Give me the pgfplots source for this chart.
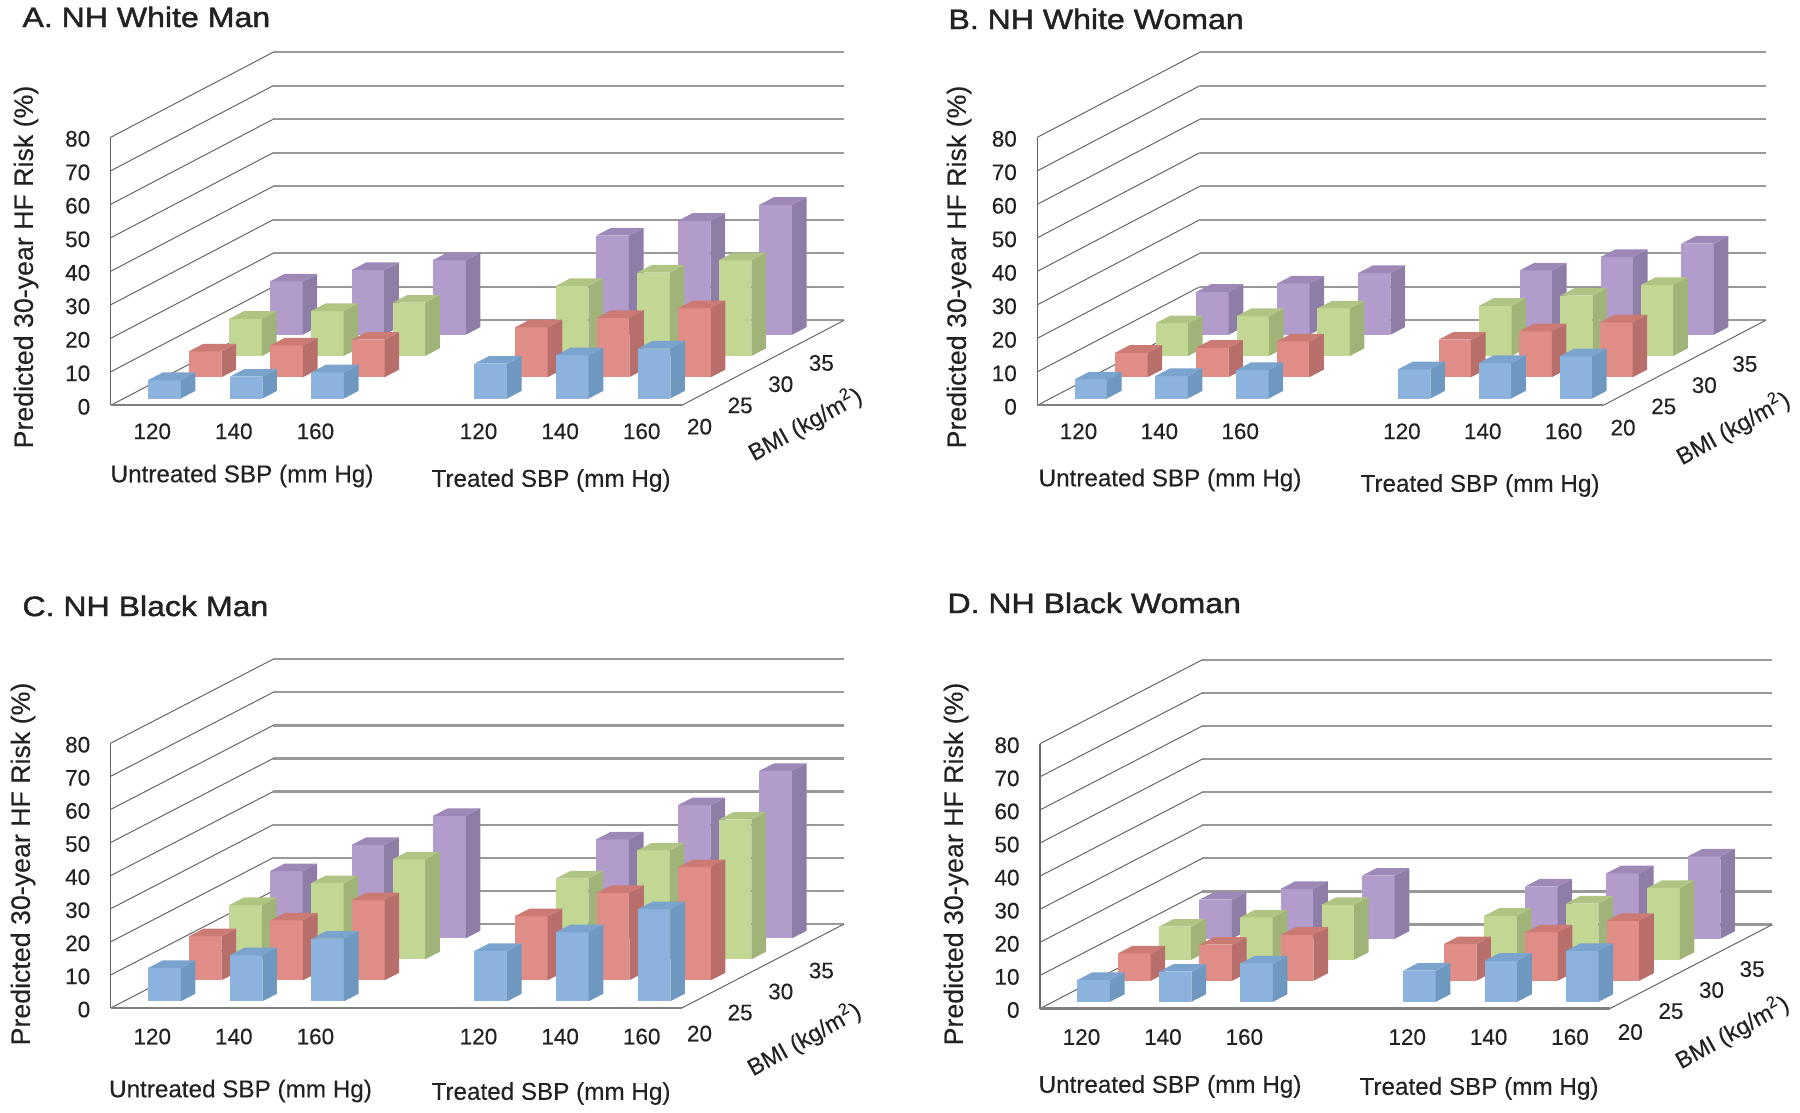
\documentclass[border=0pt]{standalone}
\usepackage{fontspec}
\usepackage{pgfplots}
\pgfplotsset{compat=1.18}
\setmainfont[FakeBold=0.25]{Liberation Sans}
\newfontfamily\titlefont[FakeStretch=1.145,FakeBold=1.6]{Liberation Sans}

\definecolor{blueF}{HTML}{8CB3DE}\definecolor{blueS}{HTML}{6E98C0}\definecolor{blueT}{HTML}{7AA3CE}
\definecolor{redF}{HTML}{E08D87}\definecolor{redS}{HTML}{B86F6C}\definecolor{redT}{HTML}{CC7A74}
\definecolor{greenF}{HTML}{C3D795}\definecolor{greenS}{HTML}{A0B379}\definecolor{greenT}{HTML}{B0C484}
\definecolor{purpleF}{HTML}{B19CCB}\definecolor{purpleS}{HTML}{8E7DA6}\definecolor{purpleT}{HTML}{9D88B8}
\definecolor{txt}{HTML}{222222}

\pgfplotsset{panel/.style={
    hide axis, clip=false, anchor=origin,
    xmin=0, xmax=7, ymin=0, ymax=4, zmin=0, zmax=80,
}}

% one column: category slot, BMI row, height, colour prefix
\newcommand\onebar[4]{%
  \pgfmathsetmacro\xa{#1+0.3}\pgfmathsetmacro\xb{#1+0.7}%
  \pgfmathsetmacro\ya{#2+0.32}\pgfmathsetmacro\yb{#2+0.68}%
  \edef\doit{%
    \noexpand\addplot3[fill=#4F,draw=none] coordinates {(\xa,\ya,0)(\xb,\ya,0)(\xb,\ya,#3)(\xa,\ya,#3)};
    \noexpand\addplot3[fill=#4S,draw=none] coordinates {(\xb,\ya,0)(\xb,\yb,0)(\xb,\yb,#3)(\xb,\ya,#3)};
    \noexpand\addplot3[fill=#4T,draw=none] coordinates {(\xa,\ya,#3)(\xb,\ya,#3)(\xb,\yb,#3)(\xa,\yb,#3)};
  }\doit}
% a BMI row: untreated 120/140/160, gap, treated 120/140/160
\newcommand\series[8]{%
  \onebar{0}{#1}{#3}{#2}\onebar{1}{#1}{#4}{#2}\onebar{2}{#1}{#5}{#2}%
  \onebar{4}{#1}{#6}{#2}\onebar{5}{#1}{#7}{#2}\onebar{6}{#1}{#8}{#2}}

% walls, floor and tick labels; #1 #2 shift of the BMI numbers, #3 shift of the SBP numbers
\newcommand\frameaxis[3]{%
  \pgfplotsinvokeforeach{0,10,...,80}{%
    \addplot3[color=black!40,line width=0.9pt] coordinates {(0,4,##1)(7,4,##1)};
    \addplot3[color=black!60,line width=0.4pt] coordinates {(0,0,##1)(0,4,##1)};
    \node[anchor=east,inner sep=0pt,text=txt,font=\fontsize{9}{10}\selectfont,xshift=-8pt,yshift=-0.6pt] at (axis cs:0,0,##1) {##1};
  }
  \addplot3[color=black!60,line width=0.5pt] coordinates {(0,0,0)(0,0,80)};
  \addplot3[color=black!50,line width=0.9pt] coordinates {(0,0,0)(7,0,0)};
  \addplot3[color=black!60,line width=0.4pt] coordinates {(7,0,0)(7,4,0)};
  \foreach \c/\t in {0.5/120,1.5/140,2.5/160,4.5/120,5.5/140,6.5/160}{%
    \edef\doit{\noexpand\node[inner sep=0pt,text=txt,font=\noexpand\fontsize{9}{10}\noexpand\selectfont,xshift=0.3pt,yshift=-#3pt] at (axis cs:\c,0,0) {\t};}\doit}
  \foreach \r/\t in {0.5/20,1.5/25,2.5/30,3.5/35}{%
    \edef\doit{\noexpand\node[inner sep=0pt,text=txt,font=\noexpand\fontsize{9}{10}\noexpand\selectfont,xshift=#1pt,yshift=-#2pt] at (axis cs:7,\r,0) {\t};}\doit}
}

\newcommand\ptitle[3]{\node[anchor=base west,inner sep=0pt,text=txt] at (#1,#2) {\titlefont\fontsize{11.2}{13}\selectfont #3};}
\newcommand\ylab[2]{\node[rotate=90,inner sep=0pt,text=txt,font=\fontsize{10.7}{12}\selectfont] at (#1,#2) {Predicted 30-year HF Risk (\%)};}
\newcommand\xlab[3]{\node[inner sep=0pt,text=txt,font=\fontsize{9.7}{12}\selectfont] at (#1,#2) {#3 SBP (mm Hg)};}
\newcommand\bmilab[2]{\node[rotate=29,inner sep=0pt,text=txt,font=\fontsize{9.4}{12}\selectfont] at (#1,#2) {BMI (kg/m\textsuperscript{2})};}

\begin{document}
\begin{tikzpicture}[x=0.4pt,y=-0.4pt]
\useasboundingbox (0,0) rectangle (1800,1113);

% A. NH White Man
\begin{axis}[panel, at={(44.28pt,-162.12pt)}, x={(32.63pt,0pt)}, y={(16.24pt,8.5pt)}, z={(0pt,1.34pt)}]
\frameaxis{-1}{12.8}{10.4}
\series{3}{purple}{15.9}{19.3}{22.3}{29.6}{34}{38.8}
\series{2}{green}{11.1}{13.4}{15.9}{20.9}{24.9}{28.6}
\series{1}{red}{7.7}{9.5}{11.2}{14.9}{17.7}{20.6}
\series{0}{blue}{5.5}{6.5}{7.8}{10.4}{12.9}{14.9}
\end{axis}

% B. NH White Woman
\begin{axis}[panel, at={(414.92pt,-162.12pt)}, x={(32.34pt,0pt)}, y={(16.24pt,8.5pt)}, z={(0pt,1.34pt)}]
\frameaxis{-0.2}{13.2}{10.4}
\series{3}{purple}{12.8}{15.3}{18.4}{19.2}{23.2}{27.2}
\series{2}{green}{9.8}{11.9}{14.2}{15}{18}{21.2}
\series{1}{red}{7.3}{8.8}{10.7}{11.2}{13.7}{16.4}
\series{0}{blue}{5.7}{6.7}{8.5}{8.7}{10.6}{12.6}
\end{axis}

% C. NH Black Man
\begin{axis}[panel, at={(44.28pt,-403.2pt)}, x={(32.63pt,0pt)}, y={(16.24pt,8.4pt)}, z={(0pt,1.324pt)}]
\frameaxis{-1}{14.4}{11.4}
\series{3}{purple}{20.3}{28.2}{37}{29.9}{40.2}{50.6}
\series{2}{green}{16.4}{23}{30.2}{24.4}{32.9}{42.2}
\series{1}{red}{13.3}{18.1}{24.2}{19.4}{26.4}{34.2}
\series{0}{blue}{10.1}{13.9}{18.9}{15.2}{20.9}{27.8}
\end{axis}

% D. NH Black Woman
\begin{axis}[panel, at={(416pt,-403.4pt)}, x={(32.57pt,0pt)}, y={(16.24pt,8.4pt)}, z={(0pt,1.324pt)}]
\frameaxis{0}{13.6}{11.4}
\series{3}{purple}{11.8}{15.1}{19.1}{15.8}{19.8}{24.9}
\series{2}{green}{10}{12.8}{16.6}{13.3}{17}{21.7}
\series{1}{red}{8.3}{10.9}{13.9}{11.1}{14.6}{18.1}
\series{0}{blue}{6.6}{9.1}{11.6}{9.4}{12.4}{15.4}
\end{axis}

\ptitle{22}{27}{A. NH White Man}
\ptitle{948}{29}{B. NH White Woman}
\ptitle{22}{616}{C. NH Black Man}
\ptitle{947}{613}{D. NH Black Woman}

\ylab{26}{267}\ylab{959}{267}\ylab{23}{864}\ylab{956}{864}

\xlab{242}{476}{Untreated}\xlab{551}{480.5}{Treated}
\xlab{1170}{480}{Untreated}\xlab{1480}{485.5}{Treated}
\xlab{240.5}{1091}{Untreated}\xlab{551}{1093.5}{Treated}
\xlab{1170}{1086.5}{Untreated}\xlab{1479}{1088.5}{Treated}

\bmilab{805}{424}\bmilab{1733}{428}\bmilab{804}{1039}\bmilab{1732}{1032}
\end{tikzpicture}
\end{document}
